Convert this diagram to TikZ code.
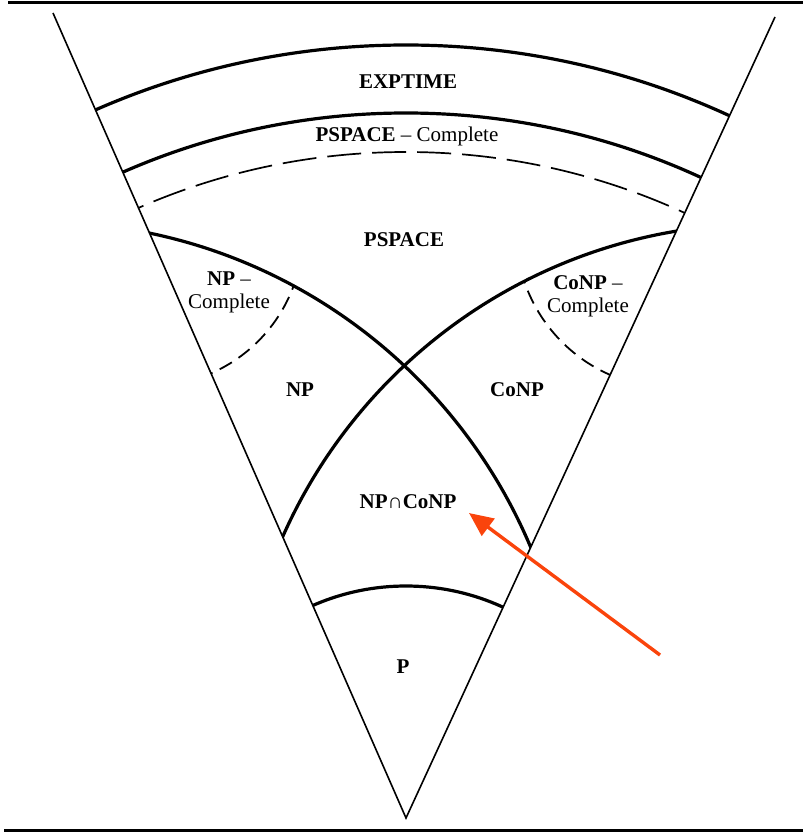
\documentclass[tikz,border=0pt]{standalone}
\usepackage{fontspec}
\setmainfont{Liberation Serif}
\usetikzlibrary{arrows.meta}
\definecolor{arrRed}{RGB}{250,68,12}

\begin{document}
\begin{tikzpicture}[x=1pt,y=-1pt]
  \tikzset{
    cone/.style={line width=1.6pt},
    classarc/.style={line width=3.2pt},
    bounddash/.style={line width=1.7pt,dash pattern=on 34pt off 11pt},
    compldash/.style={line width=1.8pt,dash pattern=on 14pt off 8pt},
    cls/.style={font=\fontsize{21}{23}\selectfont\bfseries,inner sep=0pt,align=center},
    pagerule/.style={line width=3pt},
    pointer/.style={draw=arrRed,line width=3.4pt,-{Triangle[length=24pt,width=21pt]}}}
  \useasboundingbox (0,0) rectangle (803,832);
  % page rules
  \draw[pagerule] (8,3) -- (803,3);
  \draw[pagerule] (4,830) -- (803,830);
  % cone: every class boundary is an arc centred at the apex
  \coordinate (apex) at (406,818);
  \coordinate (tl) at (53,13);
  \coordinate (tr) at (775,17);
  \coordinate (npc) at (41,753);
  \coordinate (conpc) at (763,749);
  \coordinate (npcorner) at (150,233);
  \coordinate (conpcorner) at (673,231);
  \draw[cone] (tl) -- (apex) -- (tr);
  \begin{scope}
    \clip (tl) -- (apex) -- (tr) -- cycle;
    \draw[classarc] (apex) circle[radius=773];
    \draw[classarc] (apex) circle[radius=705];
    \draw[bounddash] (apex) circle[radius=666];
    \draw[classarc] (apex) circle[radius=232];
    % NP and CoNP boundaries cross each other
    \draw[classarc] (npc) circle[radius=531];
    \draw[classarc] (conpc) circle[radius=525];
    \begin{scope}
      \clip (npc) circle[radius=531];
      \draw[compldash] (npcorner) circle[radius=153];
    \end{scope}
    \begin{scope}
      \clip (conpc) circle[radius=525];
      \draw[compldash] (conpcorner) circle[radius=157];
    \end{scope}
  \end{scope}
  % labels
  \node[cls] (exptime) at (408,82) {EXPTIME};
  \node[cls] (pspacec) at (407,136) {PSPACE {\mdseries -- Complete}};
  \node[cls] (pspace) at (404,240) {PSPACE};
  \node[cls] (npcomp) at (229,292) {NP {\mdseries --}\\{\mdseries Complete}};
  \node[cls] (conpcomp) at (588,296) {CoNP {\mdseries --}\\{\mdseries Complete}};
  \node[cls] (np) at (300,390) {NP};
  \node[cls] (conp) at (517,390) {CoNP};
  \node[cls] (npconp) at (408,502) {NP{\mdseries ∩}CoNP};
  \node[cls] (p) at (403,667) {P};
  % pointer
  \coordinate (arrtail) at (660,655);
  \coordinate (arrtip) at (469,513);
  \draw[pointer] (arrtail) -- (arrtip);
\end{tikzpicture}
\end{document}
